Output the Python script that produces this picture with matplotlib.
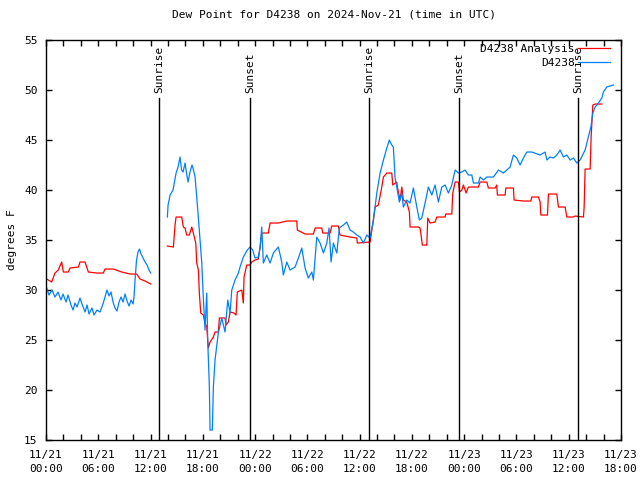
import numpy as np
import matplotlib
matplotlib.use('Agg')
import matplotlib.pyplot as plt

# hours since 2024-11-21 00:00 UTC
obs_hours = [0.08, 0.34, 0.69, 1.03, 1.38, 1.72, 1.95, 2.30, 2.53, 2.87, 3.10, 3.33, 3.56, 3.90,
             4.13, 4.48, 4.71, 4.94, 5.28, 5.51, 5.86, 6.20, 6.54, 6.77, 7.00, 7.23, 7.46, 7.69,
             7.92, 8.15, 8.38, 8.61, 8.84, 9.07, 9.30, 9.53, 9.76, 9.99, 10.10, 10.22, 10.39,
             10.56, 10.73, 10.91, 11.14, 11.37, 11.60, 11.83, 12.02,
             np.nan,
             13.93, 14.01, 14.24, 14.58, 14.93, 15.16, 15.38, 15.56, 15.73, 15.96, 16.07, 16.30,
             16.53, 16.76, 16.93, 17.11, 17.42, 17.68, 17.88, 18.03, 18.25, 18.45, 18.56, 18.75,
             18.83, 19.09, 19.21, 19.40, 19.78, 20.17, 20.55, 20.86, 21.13, 21.32, 21.70, 22.08,
             22.27, 22.65, 23.11, 23.42, 23.73, 23.99, 24.37, 24.57, 24.76, 24.95, 25.34, 25.72,
             26.10, 26.67, 27.06, 27.24, 27.64, 28.01, 28.59, 28.97, 29.36, 29.74, 30.11, 30.51,
             30.69, 31.08, 31.46, 31.84, 32.23, 32.49, 32.72, 32.99, 33.38, 33.67, 34.13, 34.52,
             34.90, 35.28, 35.67, 36.05, 36.43, 36.82, 37.20, 37.58, 37.97, 38.35, 38.73, 39.12,
             39.41, 39.69, 39.87, 40.07, 40.26, 40.56, 40.84, 41.02, 41.41, 41.79, 42.17, 42.56,
             42.86, 43.13, 43.51, 43.89, 44.28, 44.66, 45.04, 45.43, 45.81, 46.19, 46.58, 46.96,
             47.34, 47.73, 48.11, 48.48, 48.88, 49.06, 49.63, 49.83, 50.21, 50.60, 51.36, 51.93,
             52.50, 52.89, 53.27, 53.65, 54.04, 54.42, 54.80, 55.19, 55.76, 56.72, 57.29, 57.49,
             57.86, 58.24, 58.63, 59.01, 59.39, 59.78, 60.16, 60.54, 60.93, 61.31, 61.88, 62.26,
             62.54, 62.77, 63.03, 63.41, 63.80, 63.98, 64.37, 65.13]
obs_dewpt = [30.2, 29.5, 30.0, 29.3, 29.8, 29.0, 29.6, 28.8, 29.5, 28.5, 28.0, 28.7, 28.3, 29.2,
             28.6, 27.8, 28.5, 27.6, 28.2, 27.5, 28.0, 27.8, 28.6, 29.3, 30.0, 29.4, 29.8, 28.8,
             28.2, 27.9, 28.8, 29.3, 28.8, 29.6, 28.9, 28.4, 29.0, 28.6, 29.3, 31.0, 33.0,
             33.8, 34.1, 33.6, 33.2, 32.8, 32.5, 32.0, 31.7,
             np.nan,
             37.3, 38.5, 39.5, 40.0, 41.7, 42.3, 43.3, 42.0, 41.8, 42.7, 42.0, 40.8,
             41.8, 42.5, 42.0, 41.3, 38.0, 35.0, 32.7, 29.7, 26.0, 29.7, 25.0, 20.3,
             16.0, 16.0, 20.3, 23.0, 25.7, 27.2, 25.8, 29.0, 27.7, 30.0, 31.0, 31.7,
             32.3, 33.3, 34.0, 34.3, 34.0, 33.2, 33.3, 34.2, 36.3, 32.7, 33.5, 32.7,
             33.7, 34.3, 32.8, 31.5, 32.8, 32.0, 32.3, 33.2, 34.2, 32.2, 31.2, 31.8,
             31.0, 35.3, 34.7, 33.7, 34.7, 36.2, 32.8, 34.7, 33.7, 36.2, 36.5, 36.8,
             36.0, 35.8, 35.5, 35.3, 34.7, 35.5, 35.2, 37.0, 39.7, 41.7, 43.0, 44.2,
             45.0, 44.5, 44.3, 41.2, 40.3, 38.8, 39.7, 38.3, 39.0, 38.7, 40.2, 38.3,
             37.0, 37.2, 38.7, 40.3, 39.5, 40.5, 38.8, 40.3, 40.5, 39.7, 40.5, 42.0,
             41.7, 41.8, 42.0, 41.5, 41.5, 40.7, 40.7, 41.3, 41.0, 41.3, 41.3, 42.0,
             41.7, 42.0, 42.3, 43.5, 43.2, 42.5, 43.2, 43.8, 43.8, 43.5, 43.8, 43.0,
             43.3, 43.2, 43.5, 44.0, 43.3, 43.5, 43.0, 43.2, 42.7, 43.0, 44.0, 45.3,
             46.3, 47.7, 48.3, 48.7, 49.2, 49.8, 50.3, 50.5]

ana_hours = [0.08, 0.65, 1.03, 1.41, 1.80, 1.99, 2.56, 2.76, 3.71, 3.90, 4.48, 4.86, 5.82, 6.58,
             6.77, 7.73, 8.69, 9.64, 10.41, 10.79, 11.37, 12.02,
             np.nan,
             13.93, 14.62, 14.81, 14.93, 15.58, 15.76, 15.96, 16.15, 16.45, 16.73, 16.91, 17.19,
             17.30, 17.49, 17.60, 17.76, 18.06, 18.25, 18.45, 18.63, 18.83, 19.21, 19.40, 19.78,
             19.90, 20.55, 20.67, 20.93, 21.13, 21.58, 21.81, 21.96, 22.47, 22.65, 22.73, 23.04,
             23.42, 23.62, 23.99, 24.37, 24.57, 24.76, 25.52, 25.72, 26.67, 27.64, 28.78, 28.85,
             29.74, 30.69, 30.89, 31.65, 31.77, 32.61, 32.80, 33.56, 33.75, 34.90, 35.67, 35.74,
             37.20, 37.40, 37.58, 37.77, 38.15, 38.54, 38.73, 39.12, 39.69, 39.80, 40.26, 40.33,
             40.64, 40.84, 41.02, 41.41, 41.71, 41.79, 42.74, 42.94, 43.13, 43.20, 43.71, 43.82,
             44.09, 44.66, 44.86, 45.81, 45.89, 46.58, 46.69, 46.96, 47.34, 47.45, 47.73, 47.91,
             48.22, 48.48, 49.63, 49.83, 50.60, 50.78, 51.55, 51.74, 51.81, 52.70, 52.78, 53.65,
             53.73, 54.80, 55.65, 55.76, 56.52, 56.72, 56.80, 57.56, 57.67, 58.63, 58.82, 59.59,
             59.78, 60.54, 60.73, 61.69, 61.77, 61.88, 62.46, 62.57, 62.77, 63.03, 63.80]
ana_dewpt = [31.1, 30.8, 31.7, 32.0, 32.8, 31.8, 31.8, 32.2, 32.3, 32.8, 32.8, 31.8, 31.7, 31.7,
             32.1, 32.1, 31.8, 31.6, 31.6, 31.1, 30.9, 30.6,
             np.nan,
             34.4, 34.3, 36.5, 37.3, 37.3, 36.3, 36.2, 35.5, 35.5, 36.3, 35.7, 34.7,
             32.7, 32.0, 29.7, 27.7, 27.5, 26.7, 26.3, 24.2, 24.8, 25.3, 25.8, 25.8,
             27.2, 27.2, 26.5, 26.8, 27.8, 27.7, 27.5, 29.8, 30.0, 28.7, 31.3, 32.5,
             32.5, 32.8, 33.0, 33.1, 34.3, 35.7, 35.7, 36.7, 36.7, 36.9, 36.9, 36.0,
             35.6, 35.6, 36.2, 36.2, 35.7, 35.7, 36.4, 36.4, 35.5, 35.3, 35.2, 34.7,
             34.8, 36.0, 37.0, 38.3, 38.5, 40.3, 41.3, 41.7, 41.7, 40.5, 40.8, 40.3,
             39.0, 40.3, 39.0, 38.8, 37.8, 36.3, 36.3, 36.2, 35.0, 34.5, 34.5, 37.2,
             36.7, 36.8, 37.3, 37.3, 37.6, 37.6, 39.7, 40.8, 40.8, 39.8, 40.0, 40.5,
             39.7, 40.3, 40.3, 40.8, 40.8, 40.2, 40.2, 40.5, 39.5, 39.5, 40.2, 40.2,
             39.0, 38.9, 38.9, 39.3, 39.3, 38.8, 37.5, 37.5, 39.6, 39.6, 38.3, 38.3,
             37.3, 37.3, 37.4, 37.3, 38.3, 42.1, 42.1, 45.3, 48.5, 48.6, 48.6]

sun_hours = [12.97, 23.42, 37.08, 47.42, 61.08]
sun_labels = ['Sunrise', 'Sunset', 'Sunrise', 'Sunset', 'Sunrise']

tick_hours = list(range(0, 67, 6))
tick_labels = ['11/21\n00:00', '11/21\n06:00', '11/21\n12:00', '11/21\n18:00',
               '11/22\n00:00', '11/22\n06:00', '11/22\n12:00', '11/22\n18:00',
               '11/23\n00:00', '11/23\n06:00', '11/23\n12:00', '11/23\n18:00']

plt.rcParams['font.family'] = 'DejaVu Sans Mono'
plt.rcParams['font.size'] = 8

fig = plt.figure(figsize=(6.4, 4.8), dpi=100)
ax = fig.add_axes([0.0719, 0.0833, 0.8984, 0.8333])

ax.plot(ana_hours, ana_dewpt, color='#ff0000', lw=0.9, label='D4238 Analysis')
ax.plot(obs_hours, obs_dewpt, color='#0080ff', lw=0.9, label='D4238')

for h, lab in zip(sun_hours, sun_labels):
    ax.plot([h, h], [15, 49.2], color='black', lw=1)
    ax.text(h, 49.7, lab, rotation=90, ha='center', va='bottom', fontsize=8)

ax.set_xlim(0, 66)
ax.set_ylim(15, 55)
ax.set_xticks(tick_hours)
ax.set_xticklabels(tick_labels, linespacing=1.5)
ax.set_xticks(range(0, 67, 2), minor=True)
ax.set_yticks(range(15, 56, 5))
ax.tick_params(which='both', direction='in', top=True, right=True, length=4, width=1)
ax.tick_params(axis='x', pad=7)
ax.tick_params(axis='y', pad=6)
for s in ax.spines.values():
    s.set_linewidth(1)

ax.set_ylabel('degrees F', labelpad=5)
ax.set_title('Dew Point for D4238 on 2024-Nov-21 (time in UTC)', pad=16, fontsize=8)

ax.legend(loc='upper right', frameon=False, markerfirst=False, handlelength=2.9,
          handletextpad=0.3, borderaxespad=0.2, labelspacing=0.35, fontsize=8,
          bbox_to_anchor=(0.993, 1.006))

fig.savefig('out.png', dpi=100)
